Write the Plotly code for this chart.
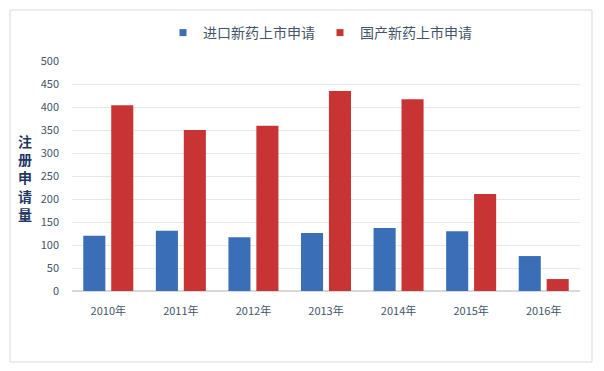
import plotly.graph_objects as go

years = ["2010年", "2011年", "2012年", "2013年", "2014年", "2015年", "2016年"]
imported = [120, 131, 117, 126, 137, 130, 76]
domestic = [404, 350, 359, 435, 417, 211, 26]
series_names = ["进口新药上市申请", "国产新药上市申请"]
series_colors = ["#3A6FB8", "#C83434"]
y_ticks = [0, 50, 100, 150, 200, 250, 300, 350, 400, 450, 500]

W, H = 604, 371
L, R, T, B = 72, 24, 61, 80
font_fam = "Microsoft YaHei, Noto Sans CJK SC, sans-serif"
txt_col = "#44546A"

fig = go.Figure()
for vals, name, col in zip([imported, domestic], series_names, series_colors):
    fig.add_trace(go.Bar(x=years, y=vals, name=name, legendgroup=name, showlegend=False,
                         marker=dict(color=col, line=dict(width=0))))
for name, col in zip(series_names, series_colors):
    fig.add_trace(go.Scatter(x=[None], y=[None], mode="markers", name=name, legendgroup=name,
                             marker=dict(symbol="square", size=7, color=col)))

pw = W - L - R
ph = H - T - B
fig.add_shape(type="rect", xref="paper", yref="paper",
              x0=(10 - L) / pw, x1=(592 - L) / pw,
              y0=(H - B - 362) / ph, y1=(H - B - 10) / ph,
              line=dict(color="#D9D9D9", width=1), fillcolor="rgba(0,0,0,0)", layer="below")

fig.add_annotation(text="<b>注<br>册<br>申<br>请<br>量</b>", xref="paper", yref="paper",
                   x=(25 - L) / pw, y=(H - B - 177) / ph, showarrow=False,
                   font=dict(size=14, color="#1F3864", family=font_fam),
                   xanchor="center", yanchor="middle")

fig.update_layout(
    width=W, height=H,
    margin=dict(l=L, r=R, t=T, b=B, autoexpand=False),
    paper_bgcolor="white", plot_bgcolor="white",
    barmode="group", bargap=0.23, bargroupgap=0.21,
    font=dict(family=font_fam, color=txt_col, size=11),
    showlegend=True,
    legend=dict(orientation="h", x=(320 - L) / pw, xanchor="center", y=(H - B - 33) / ph, yanchor="middle",
                font=dict(size=14, color=txt_col), itemwidth=30, traceorder="normal"),
    xaxis=dict(showgrid=False, showline=True, linecolor="#D9D9D9", ticks="",
               tickfont=dict(size=11, color=txt_col), ticklabelstandoff=10),
    yaxis=dict(range=[0, 500], tickvals=y_ticks, showgrid=True, gridcolor="#E8E8E8",
               zeroline=True, zerolinecolor="#D9D9D9", showline=False, ticks="",
               tickfont=dict(size=11, color=txt_col), ticklabelstandoff=12),
)

fig.write_html("out.html", post_script="document.body.style.margin='0';",
               config={"displayModeBar": False})
